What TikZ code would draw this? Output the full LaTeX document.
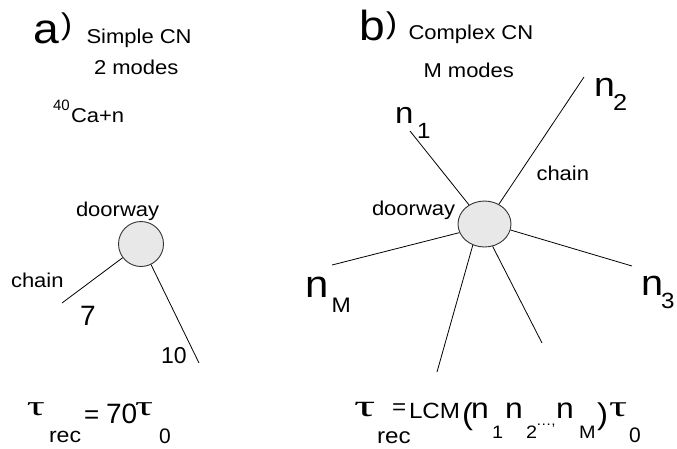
\documentclass[tikz,border=0pt]{standalone}
\usepackage{fontspec}
\usepackage{graphicx}
\usetikzlibrary{shapes.geometric}
\setmainfont{Liberation Sans}[FakeStretch=1.1]
\newfontfamily\digitfont{Liberation Sans}
\newfontfamily\greekfont{Liberation Serif}
\newcommand\fs[1]{\fontsize{#1}{#1}\selectfont}
% wide upright tau: size, horizontal stretch
\newcommand\tauglyph[2]{\scalebox{#2}[1]{\fs{#1}\greekfont τ}}

\begin{document}
\begin{tikzpicture}[x=1pt,y=-1pt,
  txt/.style={inner sep=0pt,outer sep=0pt,anchor=base west,text=black},
  core/.style={draw=black!80,fill=gray!18,line width=0.9pt,inner sep=0pt},
  chainline/.style={draw=black,line width=0.8pt}]
\fill[white] (0,0) rectangle (677,448);
\useasboundingbox (0,0) rectangle (677,448);

% ---------- a) simple compound nucleus ----------
\node[txt] (la) at (33,43) {\fs{42}a};
\node[txt] (pa) at (61,34) {\fs{30})};
\node[txt] (ta1) at (86.5,43) {\fs{20}Simple CN};
\node[txt] (ta2) at (94,74) {\fs{20}2 modes};
\node[txt] (iso) at (53,110) {\fs{15}\digitfont 40};
\node[txt] (nuc) at (71,122) {\fs{20}Ca+n};

\node[core,circle,minimum size=45pt] (da) at (141,244) {};
\coordinate (e7) at (62,303);
\coordinate (e10) at (199,363);
\draw[chainline] (da) -- (e7);
\draw[chainline] (da) -- (e10);
\node[txt] (dwa) at (76,216) {\fs{20}doorway};
\node[txt] (cha) at (11,287) {\fs{20}chain};
\node[txt] (m7) at (80,325) {\fs{28}\digitfont 7};
\node[txt] (m10) at (161,363) {\fs{23}\digitfont 10};

% recurrence time a)
\node[txt] (tau1) at (27,415) {\tauglyph{28}{1.6}};
\node[txt] (rec1) at (49,442) {\fs{21}rec};
\node[txt] (eq1) at (84,423) {\fs{26}\digitfont =};
\node[txt] (c70) at (106,423) {\fs{28}\digitfont 70};
\node[txt] (tau1b) at (135,415) {\tauglyph{28}{1.6}};
\node[txt] (z1) at (159,443) {\fs{21}\digitfont 0};

% ---------- b) complex compound nucleus ----------
\node[txt] (lb) at (359,40) {\fs{42}b};
\node[txt] (pb) at (386,33) {\fs{30})};
\node[txt] (tb1) at (408.5,39) {\fs{20}Complex CN};
\node[txt] (tb2) at (423.5,77) {\fs{20}M modes};

\node[core,ellipse,minimum width=53pt,minimum height=46pt] (db) at (484.5,224) {};
\coordinate (e1) at (410,131);
\coordinate (e2) at (584,77);
\coordinate (eM) at (332,265);
\coordinate (e3) at (632,266);
\coordinate (e4) at (437,372);
\coordinate (e5) at (542,343);
\draw[chainline] (db.129) -- (e1);
\draw[chainline] (db.54) -- (e2);
\draw[chainline] (db.199) -- (eM);
\draw[chainline] (db.347) -- (e3);
\draw[chainline] (db.241) -- (e4);
\draw[chainline] (db.290) -- (e5);
\node[txt] (dwb) at (372,215) {\fs{20}doorway};
\node[txt] (chb) at (536.5,180) {\fs{20}chain};

\node[txt] (n1) at (395,123) {\fs{30}n};
\node[txt] (s1) at (417,138) {\fs{22}1};
\node[txt] (n2) at (594,96) {\fs{34}n};
\node[txt] (s2) at (613,110) {\fs{23}2};
\node[txt] (nM) at (305.5,297) {\fs{38}n};
\node[txt] (sM) at (331.5,312) {\fs{21}M};
\node[txt] (n3) at (641,295) {\fs{36}n};
\node[txt] (s3) at (661,308) {\fs{22}3};

% recurrence time b)
\node[txt] (tau2) at (354,416) {\tauglyph{31}{1.7}};
\node[txt] (rec2) at (377,443) {\fs{22}rec};
\node[txt] (eq2) at (392,414) {\fs{22}=};
\node[txt] (lcm) at (409,418) {\fs{22}LCM};
\node[txt] (lp) at (462,424) {\fs{30}(};
\node[txt] (na) at (471,418) {\fs{29}n};
\node[txt] (sa) at (492,438) {\fs{18}1};
\node[txt] (nb) at (505,418) {\fs{29}n};
\node[txt] (sb) at (526,438) {\fs{18}2};
\node[txt] (dots) at (536,425) {\fs{14}…,};
\node[txt] (nc) at (556,418) {\fs{29}n};
\node[txt] (sc) at (579,438) {\fs{18}M};
\node[txt] (rp) at (597,424) {\fs{30})};
\node[txt] (tau3) at (609,416) {\tauglyph{30}{1.5}};
\node[txt] (z2) at (629,442) {\fs{21}\digitfont 0};
\end{tikzpicture}
\end{document}
